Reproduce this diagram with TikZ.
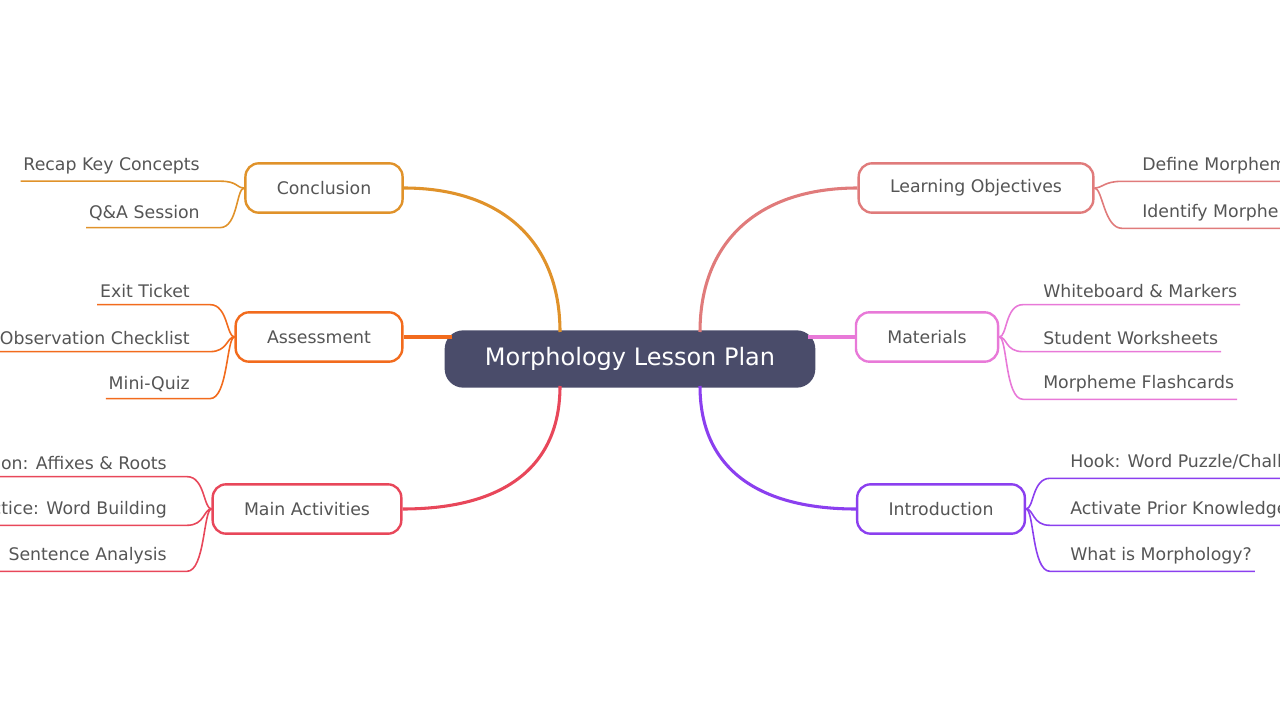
\documentclass[tikz,border=0pt]{standalone}
\usepackage{fontspec}
\setmainfont{DejaVu Sans}
\usetikzlibrary{positioning}

\definecolor{cConc}{HTML}{E0922A}
\definecolor{cAsse}{HTML}{F26B1D}
\definecolor{cMain}{HTML}{E8475A}
\definecolor{cObj}{HTML}{E07B7B}
\definecolor{cMat}{HTML}{E879D8}
\definecolor{cIntro}{HTML}{8B3FEF}
\definecolor{cCore}{HTML}{4A4C6A}
\definecolor{cText}{HTML}{555555}

\begin{document}
\begin{tikzpicture}[
  x=0.75pt, y=-0.75pt,
  core/.style={rectangle, rounded corners=14pt, fill=cCore, text=white, font=\fontsize{18}{20}\selectfont, minimum width=278pt, minimum height=43pt},
  topic/.style={rectangle, draw=#1, line width=1.8pt, fill=white, rounded corners=10pt, text=cText, font=\fontsize{13}{15}\selectfont, minimum height=37pt, inner xsep=23.5pt},
  leaf/.style={text=cText, font=\fontsize{13}{15}\selectfont, inner xsep=0pt, inner ysep=5pt},
  branch/.style={draw=#1, line width=2.3pt},
  twig/.style={draw=#1, line width=1.2pt}
]
\useasboundingbox (0,0) rectangle (1280,720);

% ======================
% CORE
% ======================
\node[core] (core) at (630,359) {Morphology Lesson Plan};

% ======================
% LEFT TOPICS
% ======================
\node[topic=cConc] (conclusion) at (324,188) {Conclusion};
\node[topic=cAsse] (assessment) at (319,337) {Assessment};
\node[topic=cMain] (activities) at (307,509) {Main Activities};

% ======================
% RIGHT TOPICS
% ======================
\node[topic=cObj] (objectives) at (976,188) {Learning Objectives};
\node[topic=cMat] (materials) at (927,337) {Materials};
\node[topic=cIntro] (intro) at (941,509) {Introduction};

% ======================
% LEAVES
% ======================
\node[leaf, anchor=east] (recap) at (200,166) {Recap Key Concepts};
\node[leaf, anchor=east] (qa) at (200,213) {Q\&A Session};

\node[leaf, anchor=east] (exit) at (190,291) {Exit Ticket};
\node[leaf, anchor=east] (observe) at (190,338) {Observation Checklist};
\node[leaf, anchor=east] (quiz) at (190,384) {Mini-Quiz};

\node[leaf, anchor=east] (instruct) at (167,463) {Instruction: Affixes \& Roots};
\node[leaf, anchor=east] (practice) at (167,510) {Guided Practice: Word Building};
\node[leaf, anchor=east] (analysis) at (167,556) {Group Work: Sentence Analysis};

\node[leaf, anchor=west] (define) at (1142,166) {Define Morphemes};
\node[leaf, anchor=west] (identify) at (1142,213) {Identify Morphemes in Words};

\node[leaf, anchor=west] (board) at (1043,291) {Whiteboard \& Markers};
\node[leaf, anchor=west] (sheets) at (1043,338) {Student Worksheets};
\node[leaf, anchor=west] (cards) at (1043,384) {Morpheme Flashcards};

\node[leaf, anchor=west] (hook) at (1070,463) {Hook: Word Puzzle/Challenge};
\node[leaf, anchor=west] (prior) at (1070,510) {Activate Prior Knowledge};
\node[leaf, anchor=west] (what) at (1070,556) {What is Morphology?};

% ======================
% BRANCHES
% ======================
\draw[branch=cConc] (560,332) .. controls (560,240) and (500,188) .. (conclusion.east);
\draw[branch=cAsse] (core.west) ++(8,-22) -- (assessment.east);
\draw[branch=cMain] (560,386) .. controls (560,470) and (500,509) .. (activities.east);
\draw[branch=cObj] (700,332) .. controls (700,240) and (760,188) .. (objectives.west);
\draw[branch=cMat] (core.east) ++(-8,-22) -- (materials.west);
\draw[branch=cIntro] (700,386) .. controls (700,470) and (760,509) .. (intro.west);

% ======================
% TWIGS
% ======================
\foreach \leaf/\topic/\col in {recap/conclusion/cConc, qa/conclusion/cConc,
    exit/assessment/cAsse, observe/assessment/cAsse, quiz/assessment/cAsse,
    instruct/activities/cMain, practice/activities/cMain, analysis/activities/cMain}
  \draw[twig=\col] (\topic.west) .. controls +(-8,0) and +(18,0) .. ([xshift=15pt]\leaf.south east) -- ([xshift=-2pt]\leaf.south west);

\foreach \leaf/\topic/\col in {define/objectives/cObj, identify/objectives/cObj,
    board/materials/cMat, sheets/materials/cMat, cards/materials/cMat,
    hook/intro/cIntro, prior/intro/cIntro, what/intro/cIntro}
  \draw[twig=\col] (\topic.east) .. controls +(8,0) and +(-18,0) .. ([xshift=-15pt]\leaf.south west) -- ([xshift=2pt]\leaf.south east);

\end{tikzpicture}
\end{document}
